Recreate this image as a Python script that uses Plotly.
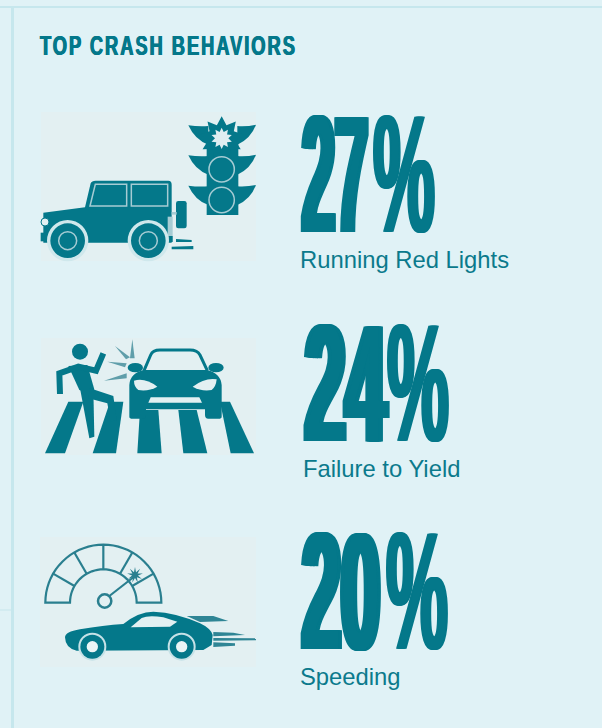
import math
import re
import plotly.graph_objects as go

TITLE = "TOP CRASH BEHAVIORS"
CATEGORIES = ["Running Red Lights", "Failure to Yield", "Speeding"]
PERCENTS = [27, 24, 20]

W, H = 602, 728
NUM_X = [302, 305, 302]
PCT_X = [373, 387, 386]
NUM_BASE = [274, 483, 691]
LABEL_X = [300, 303, 300]
LABEL_Y = [262, 471, 679]
NUM_WIDTH = [66, 81, 78]
PCT_WIDTH = 62

TEAL = "#04788a"
BG = "#e0f2f6"
PANEL = "#e3f0f2"
RULE = "#c6e7ed"
SOFT = "#a6ccd4"

shapes = []


def zpath(d, ox, oy):
    out, i = [], 0
    for tok in re.findall(r"[MLQCZ]|-?\d+\.?\d*", d):
        if tok in "MLQCZ":
            out.append(tok)
        else:
            out.append(f"{float(tok)/3 + (ox if i % 2 == 0 else oy):.2f}")
            i += 1
    return " ".join(out)


def P(d, o, fill=TEAL, line=None, lw=0):
    shapes.append(dict(type="path", path=zpath(d, *o), fillcolor=fill, layer="below",
                       line=dict(color=line or fill, width=lw)))


def L(d, o, color=TEAL, lw=2.0):
    shapes.append(dict(type="path", path=zpath(d, *o), layer="below",
                       line=dict(color=color, width=lw)))


def C(cx, cy, r, o, fill=TEAL, ry=None, line=None, lw=0):
    ry = ry or r
    shapes.append(dict(type="circle", layer="below", fillcolor=fill,
                       x0=(cx - r)/3 + o[0], x1=(cx + r)/3 + o[0],
                       y0=(cy - ry)/3 + o[1], y1=(cy + ry)/3 + o[1],
                       line=dict(color=line or fill, width=lw)))


def R(x0, y0, x1, y1, fill, line=None, lw=0):
    shapes.append(dict(type="rect", layer="below", x0=x0, x1=x1, y0=y0, y1=y1, fillcolor=fill,
                       line=dict(color=line or fill, width=lw)))


def star(cx, cy, r1, r2, n, o, fill):
    pts = []
    for k in range(2 * n):
        r = r1 if k % 2 == 0 else r2
        a = math.pi * k / n - math.pi / 2
        pts.append(f"{cx + r*math.cos(a):.1f} {cy + r*math.sin(a):.1f}")
    P("M" + " L".join(pts) + " Z", o, fill)


# frame
R(0, 6, W, 8, RULE)
R(11, 7, 14, H, RULE)
R(0, 609.5, 12, 610.5, RULE)

# panels
R(41, 112, 256, 261, PANEL)
R(41, 338, 256, 455, PANEL)
R(40, 537, 256, 667, PANEL)

# --- icon 1: jeep and traffic light
o = (0, 90)
P("M130 368 L255 352 L272 280 Q275 272 287 272 L505 272 Q515 272 515 284 L515 458 L130 458 Z", o)
P("M122 428 L146 428 L146 454 L122 454 Z", o)
C(135, 396, 12, o, PANEL, line=TEAL, lw=1)
for d in ["M286 283 L380 283 L380 348 L270 348 Z", "M394 283 L503 283 L503 348 L394 348 Z"]:
    P(d, o, TEAL, SOFT, 1.5)
P("M528 340 Q528 333 535 333 L553 333 Q560 333 560 340 L560 408 Q560 415 553 415 L535 415 Q528 415 528 408 Z", o)
P("M503 380 L518 380 L518 455 L503 455 Z", o, SOFT)
P("M505 438 L518 438 L518 456 L505 456 Z", o)
P("M515 366 L530 366 L530 374 L515 374 Z", o, SOFT)
for cx in [203, 445]:
    C(cx, 452, 62, o, "#cfe8ec")
    C(cx, 452, 52, o, TEAL)
    C(cx, 452, 27, o, TEAL, line=SOFT, lw=1.5)
P("M528 447 L575 450 L575 456 L528 456 Z", o)
P("M515 470 L580 468 L580 478 L515 478 Z", o)
# traffic light
P("M620 130 L715 130 L715 375 L620 375 Z", o)
for y in [102, 192, 283]:
    P(f"M565 {y+4} Q595 {y+8} 625 {y+6} L625 {y+62} Q585 {y+48} 565 {y+4} Z", o)
    P(f"M768 {y+2} Q740 {y+8} 712 {y+6} L712 {y+62} Q752 {y+44} 768 {y+2} Z", o)
star(665, 145, 66, 42, 9, o, TEAL)
star(665, 145, 32, 20, 10, o, "#dfeef1")
for y in [238, 330]:
    C(665, y, 38, o, TEAL, line=SOFT, lw=1.5)
    C(665, y, 32, o, TEAL)

# --- icon 2: pedestrian and car
o = (0, 320)
for d in ["M205 245 L250 245 L195 400 L135 400 Z", "M330 245 L370 245 L348 400 L278 400 Z",
          "M420 270 L475 270 L485 400 L412 400 Z", "M535 270 L590 270 L622 400 L550 400 Z",
          "M660 245 L690 245 L762 400 L692 400 Z"]:
    P(d, o)
C(240, 95, 24, o)
P("M205 138 L262 135 L282 205 L285 225 L238 210 Z", o)
L("M180 222 L178 160 L235 140 L288 152 L310 100", o, TEAL, 6)
P("M240 205 L280 205 L283 350 L268 355 Z", o)
P("M270 205 L340 228 L350 300 L332 305 L322 250 L265 235 Z", o)
for d in ["M345 78 L390 112 L378 118 Z", "M397 58 L404 115 L390 115 Z",
          "M322 125 L380 130 L375 142 Z", "M312 182 L380 160 L380 175 Z"]:
    P(d, o, "#5f9eaa")
L("M432 152 L452 105 Q458 90 480 90 L570 90 Q592 90 600 105 L622 152", o, TEAL, 3)
P("M388 195 Q390 160 430 150 L622 150 Q662 160 665 195 L665 290 Q665 296 655 296 L625 296 Q615 296 615 285 L615 268 L438 268 L438 285 Q438 296 428 296 L398 296 Q388 296 388 290 Z", o)
C(406, 143, 23, o, ry=14)
C(648, 143, 23, o, ry=14)
P("M402 182 Q435 172 472 200 Q445 215 415 210 Q402 200 402 182 Z", o, PANEL)
P("M650 178 Q615 172 578 200 Q605 215 635 210 Q648 200 650 178 Z", o, PANEL)
P("M452 232 L598 232 L606 248 L445 248 Z", o, PANEL)

# --- icon 3: speedometer and car
o = (0, 520)
cx, cy, Ro, Ri = 310, 248, 174, 100
outer = [(cx - Ro*math.cos(math.radians(a)), cy - Ro*math.sin(math.radians(a))) for a in range(0, 181, 5)]
inner = [(cx + Ri*math.cos(math.radians(a)), cy - Ri*math.sin(math.radians(a))) for a in range(0, 181, 5)]
L("M" + " L".join(f"{x:.1f} {y:.1f}" for x, y in outer + inner) + " Z", o, "#2a7f8f", 2.2)
for a in [30, 60, 90, 120, 150]:
    c, s = math.cos(math.radians(a)), math.sin(math.radians(a))
    L(f"M{cx+Ri*c:.1f} {cy-Ri*s:.1f} L{cx+Ro*c:.1f} {cy-Ro*s:.1f}", o, "#2a7f8f", 2.2)
L("M328 228 L405 168", o, "#2a7f8f", 2.2)
C(314, 243, 20, o, PANEL, line="#2a7f8f", lw=2.5)
star(405, 165, 24, 9, 9, o, "#2a7f8f")
for d in ["M560 288 L640 288 L685 303 L600 306 Z", "M640 336 L700 338 L735 345 L640 349 Z",
          "M640 354 L768 355 L768 361 L640 362 Z", "M640 367 L705 370 L705 377 L640 381 Z"]:
    P(d, o, "#2f8595")
P("M195 352 Q195 335 240 328 Q310 316 370 312 Q415 275 460 275 Q530 278 600 310 Q632 325 638 345 L635 375 L610 390 L230 392 Q196 385 195 352 Z", o)
P("M392 322 L425 294 Q445 285 490 292 L532 305 L510 320 Z", o, PANEL)
for wx in [277, 545]:
    C(wx, 380, 42, o, "#c6e2e7")
    C(wx, 380, 36, o, TEAL)
    C(wx, 380, 17, o, "#eaf5f6")

fig = go.Figure()
big = dict(family="Liberation Sans", size=167, color=TEAL, weight="bold")
fig.add_trace(go.Scatter(
    x=NUM_X, y=NUM_BASE, mode="text", text=[str(v) for v in PERCENTS],
    textposition="top right", hoverinfo="skip", textfont=big,
))
fig.add_trace(go.Scatter(
    x=PCT_X, y=NUM_BASE, mode="text", text=["%"] * len(PERCENTS),
    textposition="top right", hoverinfo="skip", textfont=big,
))
fig.add_trace(go.Scatter(
    x=LABEL_X, y=LABEL_Y, mode="text", text=CATEGORIES,
    textposition="middle right", hoverinfo="skip",
    textfont=dict(family="Liberation Sans", size=23.8, color="#0b7a8c"),
))
fig.update_layout(
    width=W, height=H, margin=dict(l=0, r=0, t=0, b=0), showlegend=False,
    paper_bgcolor=BG, plot_bgcolor=BG, shapes=shapes,
    title=dict(text=TITLE, x=40/W, xanchor="left", xref="paper", y=1 - 45/H, yanchor="middle", yref="paper",
               font=dict(family="Liberation Sans", size=28, color=TEAL, weight="bold")),
    xaxis=dict(range=[0, W], visible=False, fixedrange=True),
    yaxis=dict(range=[H, 0], visible=False, fixedrange=True),
)

post = """
document.body.style.margin = '0';
var widths = %s, values = %s, pctWidth = %d, ink = '%s';
var gd = document.getElementById('{plot_id}');
function squeeze(t, w) {
  var b = t.getBBox(), sx = w / b.width;
  t.setAttribute('transform', 'translate(' + b.x + ',0) scale(' + sx + ',1) translate(' + (-b.x) + ',0)');
}
function widen(t, offsets) {
  t.style.textShadow = offsets.map(function (d) { return d + 'px 0 0 ' + ink; }).join(',');
}
gd.querySelectorAll('.textpoint text').forEach(function (t) {
  var s = t.textContent, i = values.indexOf(s);
  if (s === '%%') { squeeze(t, pctWidth); widen(t, [-3, -1.5, 1.5, 3]); return; }
  if (i < 0) return;
  squeeze(t, widths[i]);
  widen(t, [-7, -5, -3, -1, 1, 3, 5, 7]);
});
var tt = gd.querySelector('.gtitle');
if (tt) {
  tt.style.letterSpacing = '3px';
  squeeze(tt, 257);
  widen(tt, [-0.6, 0.6]);
}
""" % (NUM_WIDTH, [str(v) for v in PERCENTS], PCT_WIDTH, TEAL)

fig.write_html("out.html", post_script=post, config={"displayModeBar": False})
